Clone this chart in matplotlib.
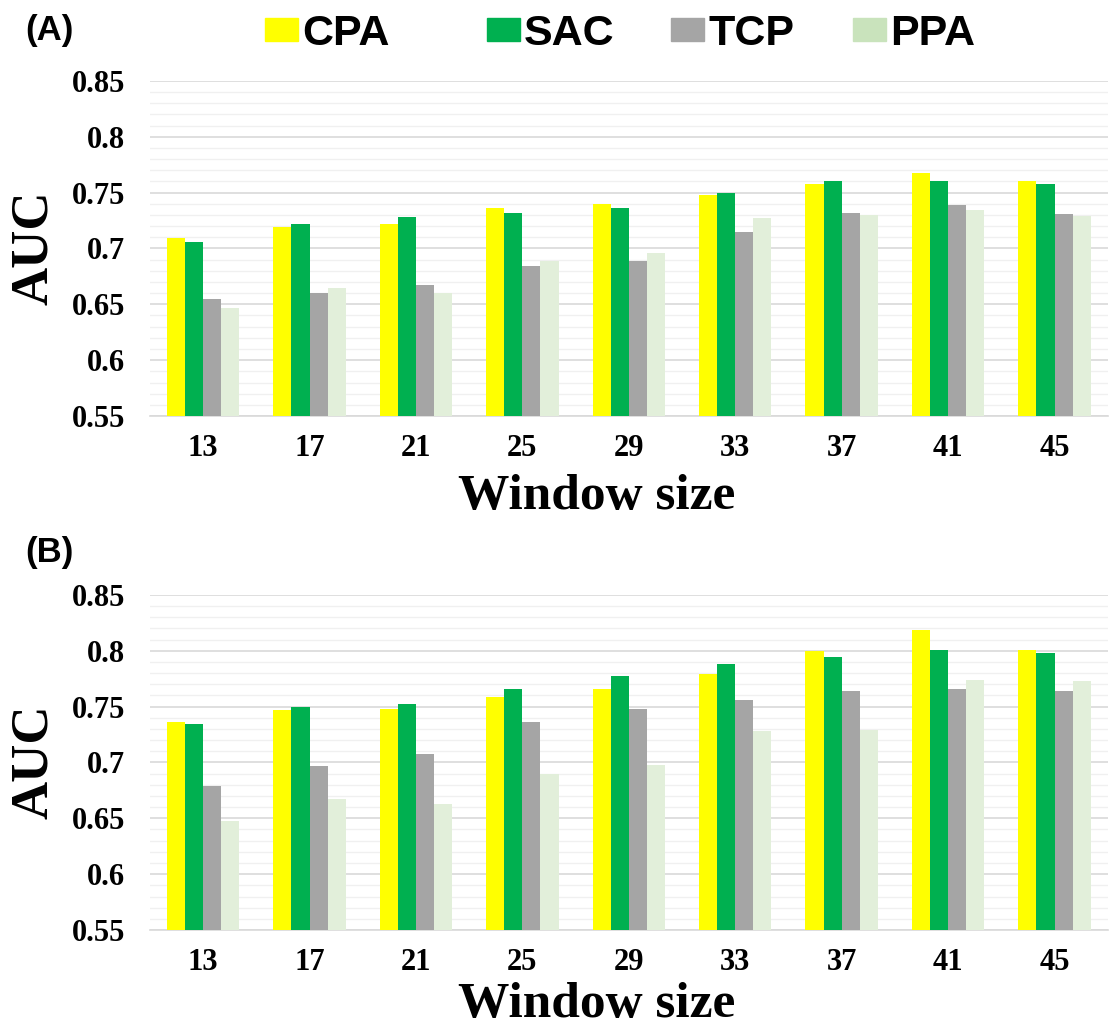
import numpy as np
import matplotlib.pyplot as plt
from matplotlib.patches import Patch
from matplotlib.ticker import MultipleLocator

# Window sizes on the x axis
window_sizes = ['13', '17', '21', '25', '29', '33', '37', '41', '45']
methods = ['CPA', 'SAC', 'TCP', 'PPA']

# Panel (A) AUC values
auc_a_cpa = [0.709, 0.719, 0.722, 0.736, 0.740, 0.748, 0.758, 0.768, 0.760]
auc_a_sac = [0.706, 0.722, 0.728, 0.732, 0.736, 0.750, 0.760, 0.760, 0.758]
auc_a_tcp = [0.655, 0.660, 0.667, 0.684, 0.689, 0.715, 0.732, 0.739, 0.731]
auc_a_ppa = [0.647, 0.665, 0.660, 0.689, 0.696, 0.727, 0.730, 0.734, 0.729]

# Panel (B) AUC values
auc_b_cpa = [0.736, 0.747, 0.748, 0.759, 0.766, 0.779, 0.800, 0.819, 0.801]
auc_b_sac = [0.734, 0.750, 0.752, 0.766, 0.777, 0.788, 0.794, 0.801, 0.798]
auc_b_tcp = [0.679, 0.697, 0.708, 0.736, 0.748, 0.756, 0.764, 0.766, 0.764]
auc_b_ppa = [0.648, 0.667, 0.663, 0.690, 0.698, 0.728, 0.729, 0.774, 0.773]

y_ticks = [0.55, 0.60, 0.65, 0.70, 0.75, 0.80, 0.85]
y_ticklabels = ['0.55', '0.6', '0.65', '0.7', '0.75', '0.8', '0.85']

bar_colors = ['#FFFF00', '#00B050', '#A5A5A5', '#E2EFDA']
legend_colors = ['#FFFF00', '#00B050', '#A5A5A5', '#C9E3BC']

serif = 'Liberation Serif'
sans = 'Liberation Sans'

fig = plt.figure(figsize=(11.10, 10.28), dpi=100)

def draw_panel(ax, series):
    x = np.arange(len(window_sizes))
    w = 0.17
    for i, vals in enumerate(series):
        ax.bar(x + (i - 1.5) * w, vals, width=w, color=bar_colors[i], zorder=3)
    ax.set_xlim(-0.5, len(window_sizes) - 0.5)
    ax.set_xticks(x)
    ax.set_xticklabels(window_sizes, fontfamily=serif, fontweight='bold', fontsize=22)
    ax.set_yticks(y_ticks)
    ax.set_yticklabels(y_ticklabels, fontfamily=serif, fontweight='bold', fontsize=22)
    ax.yaxis.set_minor_locator(MultipleLocator(0.01))
    ax.set_ylim(0.55, 0.85)
    ax.grid(axis='y', which='major', color='#D9D9D9', linewidth=1.2, zorder=0)
    ax.grid(axis='y', which='minor', color='#F0F0F0', linewidth=1.0, zorder=0)
    ax.tick_params(axis='both', which='both', length=0)
    ax.tick_params(axis='x', pad=13)
    ax.tick_params(axis='y', pad=18)
    for s in ['top', 'right', 'left']:
        ax.spines[s].set_visible(False)
    ax.spines['bottom'].set_color('#D9D9D9')
    ax.spines['bottom'].set_linewidth(1.2)

ax_a = fig.add_axes([0.135, 0.5953, 0.863, 0.326])
draw_panel(ax_a, [auc_a_cpa, auc_a_sac, auc_a_tcp, auc_a_ppa])

ax_b = fig.add_axes([0.135, 0.0953, 0.863, 0.326])
draw_panel(ax_b, [auc_b_cpa, auc_b_sac, auc_b_tcp, auc_b_ppa])

# axis titles placed in figure coords
lab = dict(fontfamily=serif, fontweight='bold', ha='center', va='center')
fig.text(0.031, 0.7588, 'AUC', rotation=90, fontsize=38, **lab)
fig.text(0.031, 0.2588, 'AUC', rotation=90, fontsize=38, **lab)
fig.text(0.538, 0.5165, 'Window size', fontsize=37, **lab)
fig.text(0.538, 0.0224, 'Window size', fontsize=37, **lab)

fig.text(0.0225, 0.9708, '(A)', fontfamily=sans, fontweight='bold', fontsize=25, va='center')
fig.text(0.0225, 0.463, '(B)', fontfamily=sans, fontweight='bold', fontsize=25, va='center')

# one legend per entry so each sits where it does in the original
legend_x = [265, 487, 671, 853]
for name, c, px in zip(methods, legend_colors, legend_x):
    fig.legend([Patch(color=c)], [name], loc='center left',
               bbox_to_anchor=(px / 1110, 1 - 34 / 1028), frameon=False,
               prop={'family': sans, 'weight': 'bold', 'size': 31},
               handlelength=0.76, handleheight=0.44, handletextpad=0.1,
               borderpad=0, borderaxespad=0)

plt.savefig('out.png', dpi=100)
